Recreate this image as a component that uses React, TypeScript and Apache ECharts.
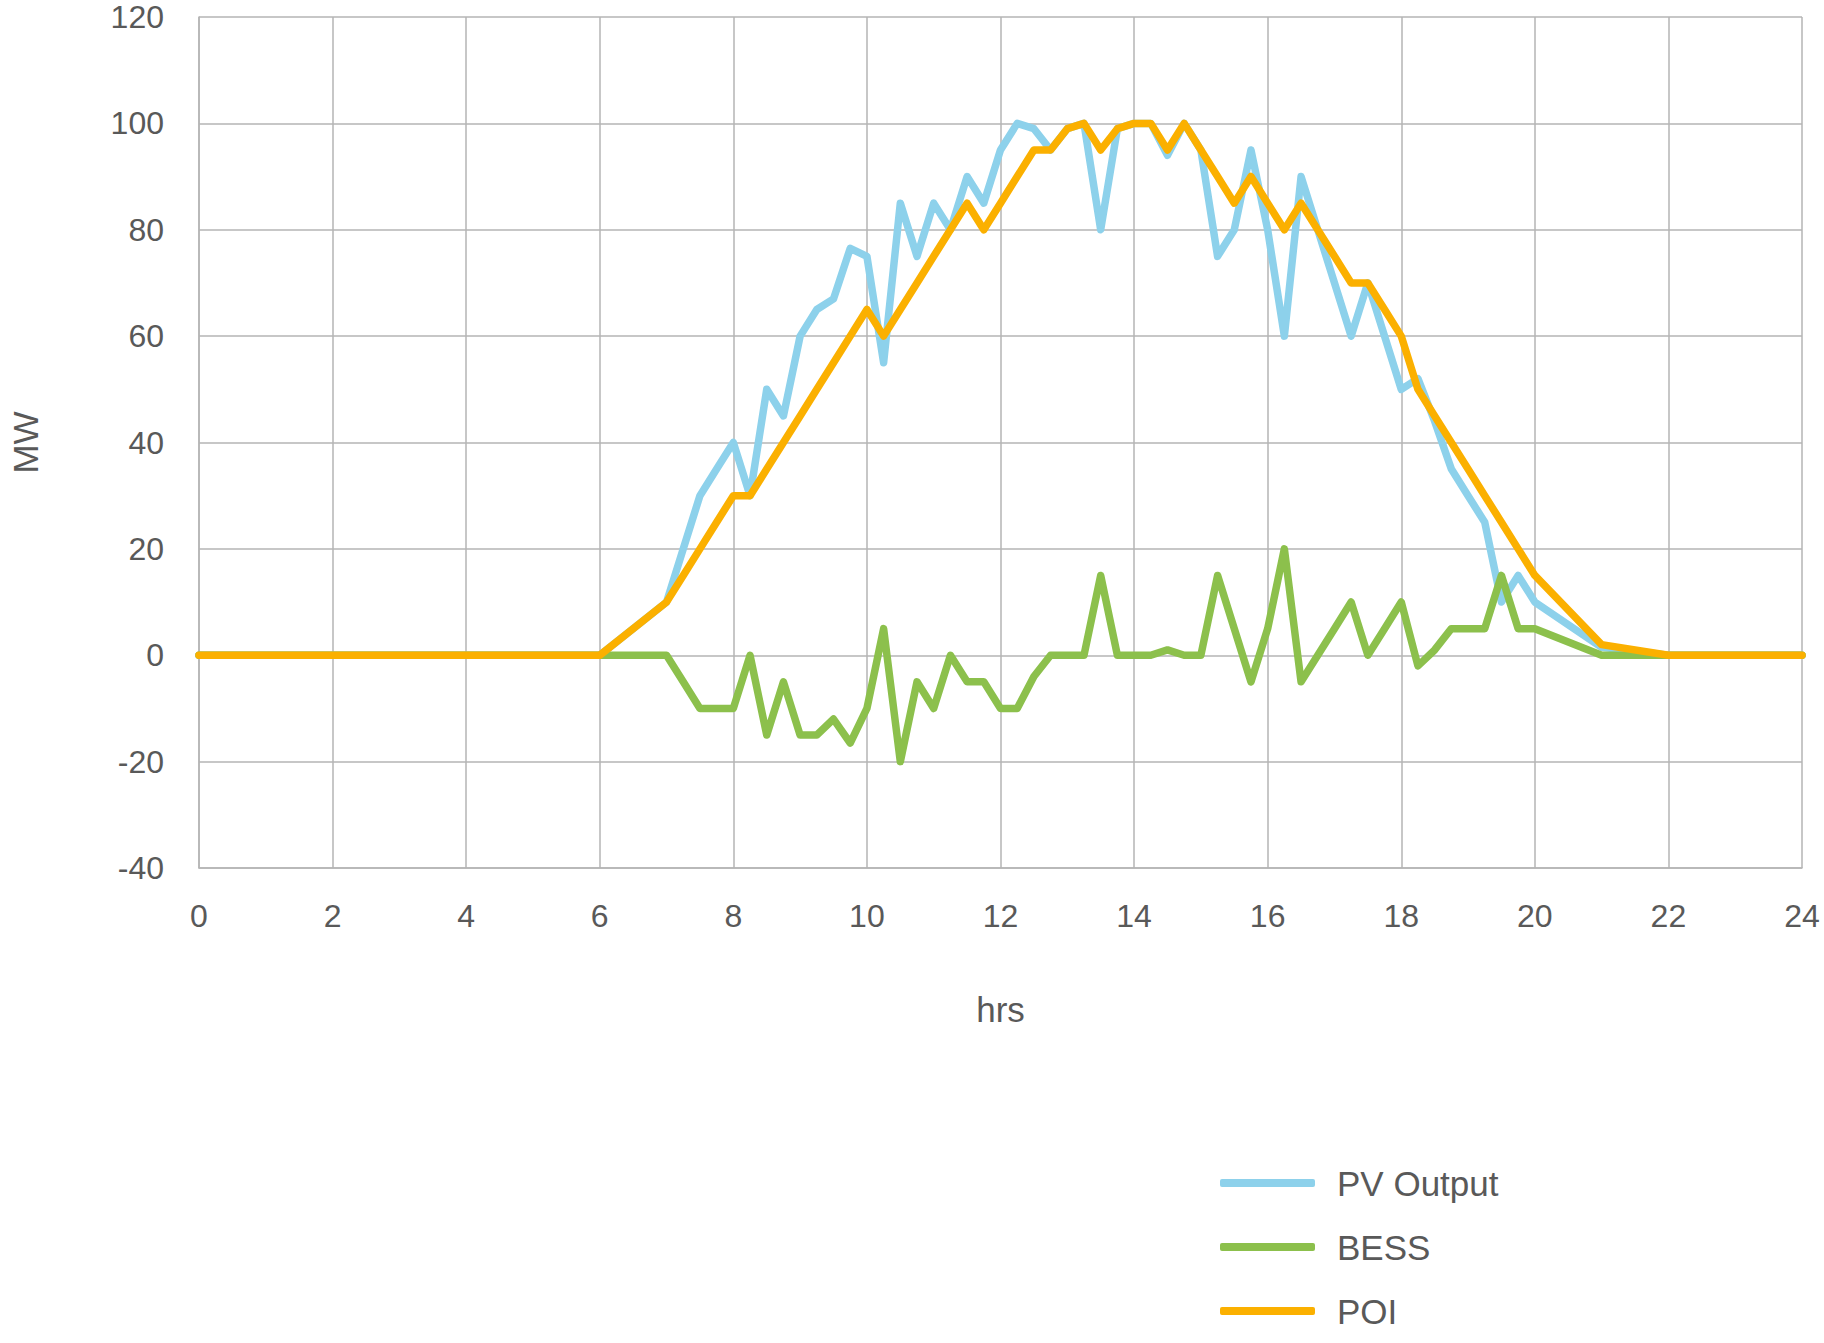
import React, { useEffect, useRef } from "react";
import * as echarts from "echarts";

const hours = [0, 6, 7, 7.25, 7.5, 7.75, 8, 8.25, 8.5, 8.75, 9, 9.25, 9.5, 9.75, 10,
  10.25, 10.5, 10.75, 11, 11.25, 11.5, 11.75, 12, 12.25, 12.5, 12.75, 13, 13.25, 13.5, 13.75, 14,
  14.25, 14.5, 14.75, 15, 15.25, 15.5, 15.75, 16, 16.25, 16.5, 16.75, 17, 17.25, 17.5, 17.75, 18,
  18.25, 18.5, 18.75, 19, 19.25, 19.5, 19.75, 20, 21, 22, 24];

const pvOutput = [0, 0, 10, 20, 30, 35, 40, 30, 50, 45, 60, 65, 67, 76.5, 75,
  55, 85, 75, 85, 80, 90, 85, 95, 100, 99, 95, 99, 100, 80, 99, 100,
  100, 94, 100, 95, 75, 80, 95, 80, 60, 90, 80, 70, 60, 70, 60, 50,
  52, 44, 35, 30, 25, 10, 15, 10, 1.5, 0, 0];

const bess = [0, 0, 0, -5, -10, -10, -10, 0, -15, -5, -15, -15, -12, -16.5, -10,
  5, -20, -5, -10, 0, -5, -5, -10, -10, -4, 0, 0, 0, 15, 0, 0,
  0, 1, 0, 0, 15, 5, -5, 5, 20, -5, 0, 5, 10, 0, 5, 10,
  -2, 1, 5, 5, 5, 15, 5, 5, 0, 0, 0];

const poi = [0, 0, 10, 15, 20, 25, 30, 30, 35, 40, 45, 50, 55, 60, 65,
  60, 65, 70, 75, 80, 85, 80, 85, 90, 95, 95, 99, 100, 95, 99, 100,
  100, 95, 100, 95, 90, 85, 90, 85, 80, 85, 80, 75, 70, 70, 65, 60,
  50, 45, 40, 35, 30, 25, 20, 15, 2, 0, 0];

const seriesNames = ["PV Output", "BESS", "POI"];
const seriesColors = ["#8DD1EB", "#8CC04C", "#FBB000"];

const FONT = "'Liberation Sans', Arial, Helvetica, sans-serif";
const TEXT = "#595959";
const GRID = "#B5B5B5";

export default function App() {
  const ref = useRef<HTMLDivElement>(null);
  useEffect(() => {
    document.body.style.margin = "0";
    if (!ref.current) return;
    const chart = echarts.init(ref.current, null, { renderer: "svg" });
    const values = [pvOutput, bess, poi];
    chart.setOption({
      animation: false,
      backgroundColor: "#ffffff",
      textStyle: { fontFamily: FONT },
      grid: { left: 191, right: 22, top: 17, bottom: 475, containLabel: false },
      legend: {
        orient: "vertical",
        left: 1220,
        top: 1163,
        padding: 0,
        itemWidth: 95,
        itemHeight: 8,
        itemGap: 24,
        icon: "roundRect",
        data: seriesNames,
        textStyle: { fontSize: 35, color: TEXT, fontFamily: FONT, lineHeight: 40, padding: [0, 0, 0, 17] },
      },
      xAxis: {
        type: "value",
        min: 0,
        max: 24,
        interval: 2,
        name: "hrs",
        nameLocation: "middle",
        nameGap: 124,
        nameTextStyle: { fontSize: 35, color: TEXT, fontFamily: FONT },
        axisLine: { onZero: false, show: true, lineStyle: { color: GRID, width: 1.5 } },
        axisTick: { show: false },
        axisLabel: { fontSize: 32, color: TEXT, margin: 32, fontFamily: FONT },
        splitLine: { show: true, lineStyle: { color: GRID, width: 1.5 } },
      },
      yAxis: {
        type: "value",
        min: -40,
        max: 120,
        interval: 20,
        name: "MW",
        nameLocation: "middle",
        nameGap: 156,
        nameTextStyle: { fontSize: 35, color: TEXT, fontFamily: FONT },
        axisLine: { show: true, lineStyle: { color: GRID, width: 1.5 } },
        axisTick: { show: false },
        axisLabel: { fontSize: 32, color: TEXT, margin: 35, fontFamily: FONT },
        splitLine: { show: true, lineStyle: { color: GRID, width: 1.5 } },
      },
      series: seriesNames.map((name, i) => ({
        name,
        type: "line",
        data: hours.map((h, j) => [h, values[i][j]]),
        showSymbol: false,
        symbol: "none",
        color: seriesColors[i],
        lineStyle: { color: seriesColors[i], width: 7.5, join: "round", cap: "round" },
        z: 2 + i,
      })),
    });
    return () => chart.dispose();
  }, []);
  return <div ref={ref} style={{ width: 1824, height: 1343 }} />;
}
